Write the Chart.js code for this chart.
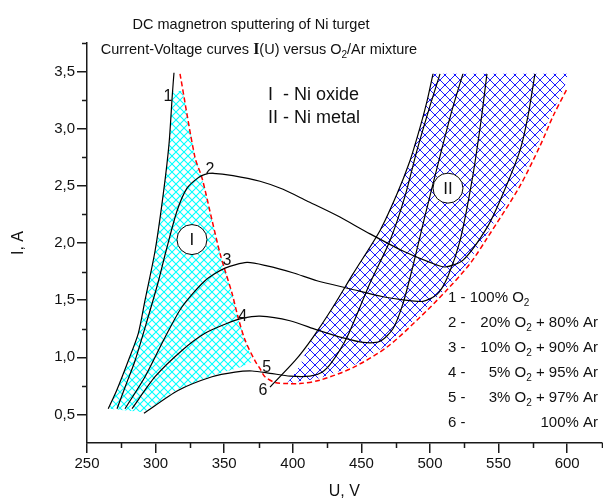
<!DOCTYPE html>
<html>
<head>
<meta charset="utf-8">
<script src="https://cdn.jsdelivr.net/npm/chart.js@4.4.1/dist/chart.umd.min.js"></script>
<style>
  html, body { margin: 0; padding: 0; background: #fff; }
  #wrap { width: 603px; height: 504px; }
</style>
</head>
<body>
<div id="wrap"><canvas id="chart" width="603" height="504"></canvas></div>
<script>
// I(U) curves, [U (V), I (A)]
const curve1 = [[265.5,0.55],[271.6,0.71],[280.1,0.97],[287.4,1.21],[292.3,1.50],[299.6,1.93],[305.6,2.43],[309.8,2.87],[312.2,3.30],[313.4,3.49]];
const curve2 = [[271.9,0.55],[278.4,0.76],[285.0,0.97],[294.5,1.35],[301.7,1.65],[307.6,1.93],[315.6,2.28],[322.9,2.48],[330.9,2.57],[336.0,2.60],[341.8,2.61],[356.4,2.59],[376.1,2.54],[392.9,2.47],[410.0,2.37],[432.2,2.24],[456.3,2.08],[480.3,1.93],[500.0,1.83],[510.9,1.79],[524.1,1.85],[542.3,2.15],[553.2,2.43],[565.6,2.81],[571.4,3.11],[576.5,3.48]];
const curve3 = [[277.7,0.55],[292.3,0.83],[306.9,1.175],[319.2,1.44],[336.0,1.67],[350.6,1.78],[366.6,1.83],[381.2,1.80],[400.0,1.74],[417.6,1.67],[441.7,1.60],[465.7,1.53],[481.8,1.50],[494.9,1.49],[505.1,1.55],[513.1,1.71],[521.9,2.02],[530.6,2.545],[537.2,3.07],[541.5,3.48]];
const curve4 = [[282.8,0.55],[299.6,0.83],[319.2,1.06],[336.0,1.21],[352.8,1.30],[363.0,1.34],[376.1,1.36],[397.9,1.32],[417.6,1.24],[436.6,1.17],[451.2,1.13],[463.6,1.14],[473.0,1.25],[480.3,1.47],[487.6,1.80],[496.4,2.24],[507.3,2.76],[516.0,3.16],[524.0,3.48]];
const curve5 = [[291.5,0.51],[316.3,0.71],[341.1,0.83],[357.9,0.87],[370.3,0.88],[383.4,0.86],[398.0,0.835],[412.5,0.835],[421.3,0.87],[428.6,0.96],[439.5,1.175],[456.3,1.65],[470.8,2.02],[481.8,2.41],[490.5,2.81],[500.0,3.20],[507.3,3.48]];
const curve6 = [[383.4,0.74],[401.6,0.97],[414.7,1.175],[429.3,1.44],[443.9,1.73],[463.6,2.11],[476.0,2.43],[485.4,2.72],[492.7,3.01],[497.8,3.24],[502.2,3.48]];

// mode boundary (red dashed)
const boundary = [[317.8,3.48],[328.7,2.75],[333.8,2.57],[341.1,2.20],[346.9,1.91],[350.6,1.76],[355.7,1.56],[360.1,1.35],[365.2,1.15],[372.4,0.97],[376.1,0.90],[379.7,0.83],[387.0,0.78],[396.5,0.77],[405.2,0.77],[419.8,0.80],[443.9,0.91],[468.7,1.09],[492.7,1.35],[512.4,1.59],[529.2,1.82],[541.5,2.04],[565.6,2.50],[580.2,2.85],[589.7,3.11],[599.9,3.35]];

// hatched regions
const regionOxide = [[312.2,3.33],[309.8,2.87],[305.6,2.43],[299.6,1.93],[292.3,1.50],[287.4,1.21],[280.1,0.97],[271.6,0.71],[265.5,0.55],[291.5,0.52],[316.3,0.72],[341.1,0.84],[361.5,0.91],[371.0,0.96],[365.2,1.15],[360.1,1.35],[355.7,1.56],[350.6,1.76],[346.9,1.91],[341.1,2.20],[333.8,2.57],[328.7,2.75],[321.4,3.24],[319.2,3.33]];
const regionMetal = [[395.8,0.77],[405.2,0.93],[414.7,1.175],[429.3,1.44],[443.9,1.73],[463.6,2.11],[476.0,2.43],[485.4,2.72],[492.7,3.01],[497.8,3.24],[502.2,3.48],[600.6,3.48],[597.7,3.35],[587.5,3.11],[578.0,2.85],[563.4,2.50],[539.4,2.04],[527.0,1.82],[510.2,1.585],[490.5,1.35],[466.5,1.09],[441.7,0.91],[417.6,0.81],[405.2,0.79]];

const circleCenters = [[326.5,2.03],[513.1,2.48]];
const circleLabels = ['I', 'II'];
const curveLabelPos = [[309.0,3.28],[339.7,2.64],[352.0,1.85],[363.5,1.36],[381.0,0.91],[378.3,0.71]];
const curveLabels = ['1', '2', '3', '4', '5', '6'];

const xTicks = [250, 300, 350, 400, 450, 500, 550, 600];
const yTicks = [0.5, 1.0, 1.5, 2.0, 2.5, 3.0, 3.5];
const xMinor = [275, 325, 375, 425, 475, 525, 575, 625];
const yMinor = [0.75, 1.25, 1.75, 2.25, 2.75, 3.25, 3.75];

const SANS = '"Liberation Sans", Arial, sans-serif';
const AXIS = '#1a1a1a';

function pts(a) { return a.map(p => ({ x: p[0], y: p[1] })); }

function hatch(color, size, lw) {
  const c = document.createElement('canvas');
  c.width = size; c.height = size;
  const g = c.getContext('2d');
  g.strokeStyle = color; g.lineWidth = lw;
  g.beginPath();
  g.moveTo(-1, -1); g.lineTo(size + 1, size + 1);
  g.moveTo(size + 1, -1); g.lineTo(-1, size + 1);
  g.stroke();
  return g.createPattern(c, 'repeat');
}

function curveSet(a) {
  return { data: pts(a), showLine: true, borderColor: '#000', borderWidth: 1.2, pointRadius: 0, tension: 0.25, fill: false, order: 3 };
}

// text drawn in pieces (subscripts, serif I)
function drawParts(ctx, parts, x, y, align) {
  let w = 0;
  parts.forEach(p => { ctx.font = p[1]; w += ctx.measureText(p[0]).width; });
  let cx = align === 'center' ? x - w / 2 : align === 'right' ? x - w : x;
  parts.forEach(p => {
    ctx.font = p[1];
    ctx.fillText(p[0], cx, y + (p[2] || 0));
    cx += ctx.measureText(p[0]).width;
  });
}

const f15 = '15px ' + SANS;
const fSub = '10px ' + SANS;

const minorTicks = {
  id: 'minorTicks',
  afterDraw(chart) {
    const { ctx, scales: { x, y } } = chart;
    ctx.save();
    ctx.strokeStyle = AXIS; ctx.lineWidth = 1.5;
    ctx.beginPath();
    xMinor.forEach(v => { const px = Math.round(x.getPixelForValue(v)) + 0.5; ctx.moveTo(px, x.top); ctx.lineTo(px, x.top + 5); });
    yMinor.forEach(v => { const py = Math.round(y.getPixelForValue(v)) + 0.5; ctx.moveTo(y.right, py); ctx.lineTo(y.right - 5, py); });
    ctx.stroke();
    ctx.restore();
  }
};

const texts = {
  id: 'texts',
  afterDraw(chart) {
    const { ctx, scales: { x, y } } = chart;
    ctx.save();
    ctx.fillStyle = '#111';
    ctx.textBaseline = 'middle';
    ctx.textAlign = 'left';

    const ft = '14.5px ' + SANS;
    drawParts(ctx, [['DC magnetron sputtering of Ni turget', ft]], 251, 25, 'center');
    drawParts(ctx, [['Current-Voltage curves ', ft], ['I', 'bold 16px "Liberation Serif", serif'], ['(U) versus O', ft], ['2', fSub, 5], ['/Ar mixture', ft]], 259, 50, 'center');

    const fm = '18px ' + SANS;
    drawParts(ctx, [['I  - Ni oxide', fm]], 268, 95, 'left');
    drawParts(ctx, [['II - Ni metal', fm]], 268, 118, 'left');

    // legend of gas mixtures
    const rows = [
      ['1 -', null],
      ['2 -', [['20% O', f15], ['2', fSub, 5], [' + 80% Ar', f15]]],
      ['3 -', [['10% O', f15], ['2', fSub, 5], [' + 90% Ar', f15]]],
      ['4 -', [['5% O', f15], ['2', fSub, 5], [' + 95% Ar', f15]]],
      ['5 -', [['3% O', f15], ['2', fSub, 5], [' + 97% Ar', f15]]],
      ['6 -', [['100% Ar', f15]]]
    ];
    rows.forEach((r, i) => {
      const ry = 298 + i * 25;
      if (!r[1]) {
        drawParts(ctx, [['1 - 100% O', f15], ['2', fSub, 5]], 448, ry, 'left');
      } else {
        drawParts(ctx, [[r[0], f15]], 448, ry, 'left');
        drawParts(ctx, r[1], 598, ry, 'right');
      }
    });

    // curve numbers
    ctx.font = '16px ' + SANS;
    ctx.textAlign = 'center';
    curveLabels.forEach((t, i) => {
      ctx.fillText(t, x.getPixelForValue(curveLabelPos[i][0]), y.getPixelForValue(curveLabelPos[i][1]));
    });

    // circle labels
    ctx.font = '17px ' + SANS;
    const meta = chart.getDatasetMeta(chart.data.datasets.length - 1);
    meta.data.forEach((el, i) => { ctx.fillText(circleLabels[i], el.x, el.y + 1); });
    ctx.restore();
  }
};

const datasets = [
  { data: pts(regionOxide), showLine: true, fill: 'shape', backgroundColor: hatch('#00ffff', 8, 1.1), borderColor: 'rgba(0,0,0,0)', borderWidth: 1, pointRadius: 0, tension: 0, order: 10 },
  { data: pts(regionMetal), showLine: true, fill: 'shape', backgroundColor: hatch('#0000ff', 10, 0.9), borderColor: 'rgba(0,0,0,0)', borderWidth: 1, pointRadius: 0, tension: 0, order: 10 },
  { data: pts(boundary), showLine: true, borderColor: '#ff0000', borderWidth: 1.5, borderDash: [5, 3], pointRadius: 0, tension: 0.3, fill: false, order: 5 },
  curveSet(curve1), curveSet(curve2), curveSet(curve3), curveSet(curve4), curveSet(curve5), curveSet(curve6),
  { data: pts(circleCenters), showLine: false, pointRadius: 15, pointBackgroundColor: '#fff', pointBorderColor: '#000', pointBorderWidth: 1, order: 1 }
];

new Chart(document.getElementById('chart'), {
  type: 'scatter',
  data: { datasets },
  options: {
    responsive: false,
    animation: false,
    events: [],
    devicePixelRatio: 1,
    // no extra room for the big circle markers
    layout: { autoPadding: false, padding: { top: 43, right: 1.5, bottom: 0, left: 0 } },
    plugins: { legend: { display: false }, tooltip: { enabled: false } },
    scales: {
      x: {
        type: 'linear', min: 250, max: 625,
        afterBuildTicks: s => { s.ticks = xTicks.map(v => ({ value: v })); },
        afterFit: s => { s.height = 61; s.paddingLeft = 0; s.paddingRight = 0; },
        ticks: { callback: v => String(v), font: { size: 15, family: SANS }, color: '#111', padding: 2, maxRotation: 0 },
        grid: { drawOnChartArea: false, drawTicks: true, tickLength: 10, lineWidth: 1.5, tickColor: AXIS },
        border: { display: true, color: AXIS, width: 1.5 },
        title: { display: true, text: 'U, V', font: { size: 16, family: SANS }, color: '#111', padding: { top: 0, bottom: 3 } }
      },
      y: {
        type: 'linear', min: 0.25, max: 3.75,
        afterBuildTicks: s => { s.ticks = yTicks.map(v => ({ value: v })); },
        afterFit: s => { s.width = 87; },
        ticks: { callback: v => v.toFixed(1).replace('.', ','), font: { size: 15, family: SANS }, color: '#111', padding: 2 },
        grid: { drawOnChartArea: false, drawTicks: true, tickLength: 10, lineWidth: 1.5, tickColor: AXIS },
        border: { display: true, color: AXIS, width: 1.5 },
        title: { display: true, text: 'I, A', font: { size: 16, family: SANS }, color: '#111', padding: { top: 9, bottom: 0 } }
      }
    }
  },
  plugins: [minorTicks, texts]
});
</script>
</body>
</html>
